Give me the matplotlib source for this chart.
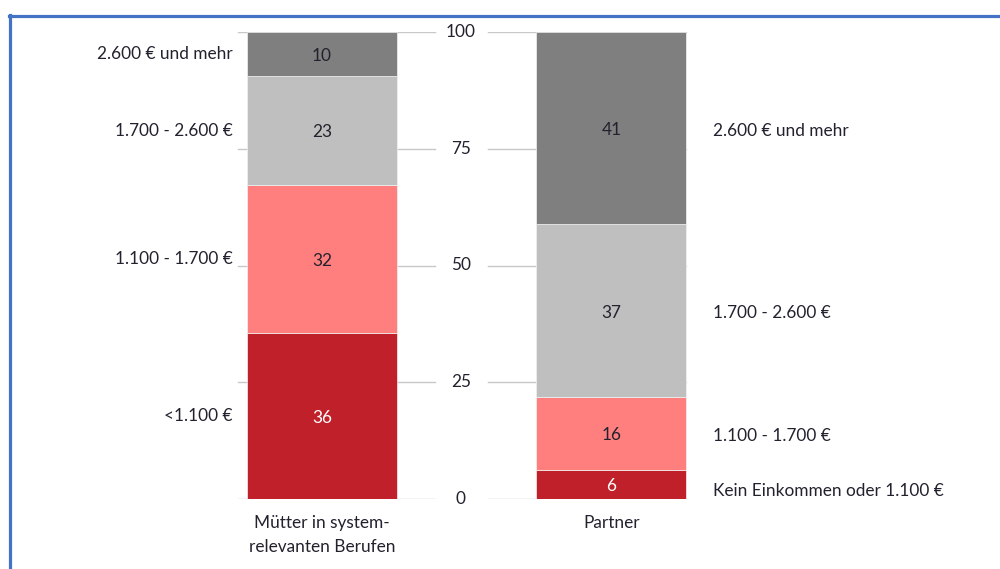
import matplotlib.pyplot as plt
from matplotlib.lines import Line2D

plt.rcParams['font.family'] = ['Lato', 'DejaVu Sans']

# Daten (Anteile in %)
gruppen = ['Mütter in system-\nrelevanten Berufen', 'Partner']
kat_links = ['<1.100 €', '1.100 - 1.700 €', '1.700 - 2.600 €', '2.600 € und mehr']
kat_rechts = ['Kein Einkommen oder 1.100 €', '1.100 - 1.700 €', '1.700 - 2.600 €', '2.600 € und mehr']
muetter = [35.6, 31.7, 23.2, 9.6]
partner = [6.2, 15.6, 37.0, 41.2]
ticks = [0, 25, 50, 75, 100]

farben = ['#c0202a', '#ff7f7f', '#bfbfbf', '#7f7f7f']
textfarben = ['white', '#22222e', '#22222e', '#22222e']
dunkel = '#22222e'
fs = 12.4

fig = plt.figure(figsize=(10, 5.69), dpi=100)
ax = fig.add_axes([0, 70 / 569, 1, 467 / 569])
ax.set_xlim(-1.112, 2.342)
ax.set_ylim(0, 100)
ax.axis('off')

breite = 0.518

# Rasterlinien mit Lücke für die Beschriftung
for t in ticks:
    ax.plot([-0.29, 0.39], [t, t], color='#c8c8c8', lw=1, zorder=0)
    ax.plot([0.573, 1.259], [t, t], color='#c8c8c8', lw=1, zorder=0)
    ax.text(0.48, t, str(t), ha='center', va='center', fontsize=fs, color=dunkel)

for xi, werte in enumerate([muetter, partner]):
    unten = 0
    for i, w in enumerate(werte):
        ax.bar(xi, w, bottom=unten, width=breite, color=farben[i],
               edgecolor='#f2f2f2', linewidth=0.5, zorder=2)
        ax.text(xi, unten + w / 2 - 0.4, f'{w:.0f}', ha='center', va='center',
                fontsize=fs, color=textfarben[i], zorder=3)
        if xi == 0:
            ax.text(-breite / 2 - 0.05, unten + w / 2, kat_links[i], ha='right',
                    va='center', fontsize=fs, color=dunkel)
        else:
            ax.text(1 + breite / 2 + 0.09, unten + w / 2 - (1.3 if i == 0 else 0.5),
                    kat_rechts[i], ha='left', va='center', fontsize=fs, color=dunkel)
        unten += w

for xi, g in enumerate(gruppen):
    ax.text(xi, -3.4, g, ha='center', va='top', fontsize=fs, color=dunkel,
            linespacing=1.6)

# blauer Rahmen
blau = '#4472c4'
fig.add_artist(Line2D([9 / 1000, 1], [1 - 15.5 / 569] * 2, color=blau, lw=2.3,
                      transform=fig.transFigure))
fig.add_artist(Line2D([9.5 / 1000] * 2, [0, 1 - 14.5 / 569], color=blau, lw=2.3,
                      transform=fig.transFigure))

fig.savefig('out.png', dpi=100)
